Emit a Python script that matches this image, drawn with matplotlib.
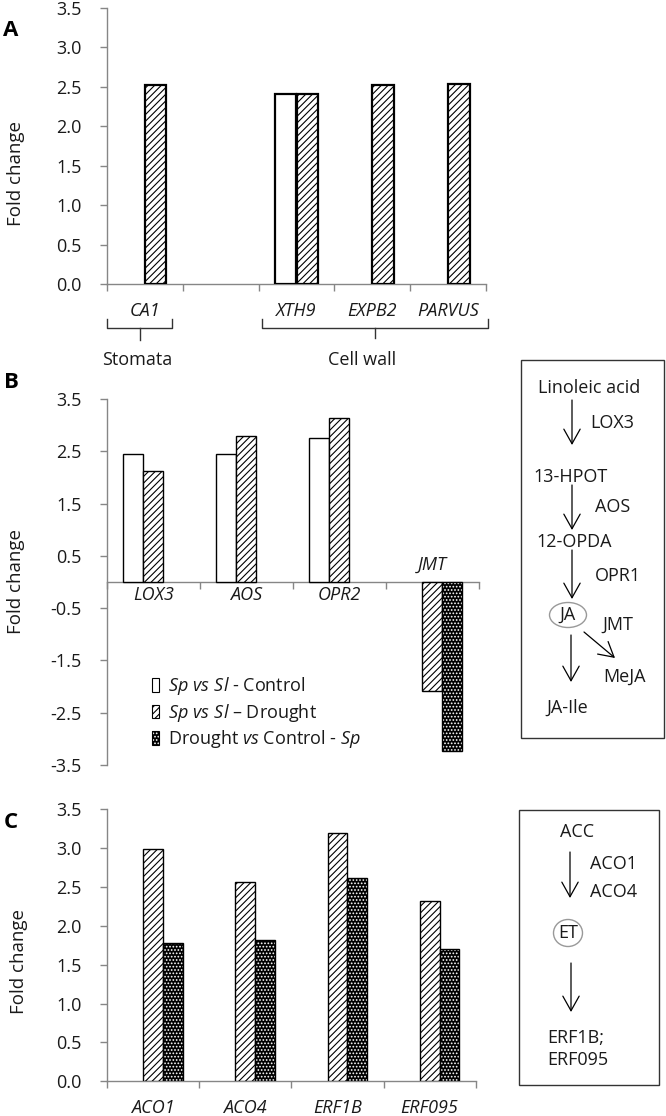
import numpy as np
import matplotlib
matplotlib.use("Agg")
import matplotlib.pyplot as plt
from matplotlib.patches import Patch, Rectangle, Ellipse

plt.rcParams['font.family'] = ['Open Sans', 'DejaVu Sans']
plt.rcParams['mathtext.fontset'] = 'custom'
plt.rcParams['mathtext.rm'] = 'Open Sans'
plt.rcParams['mathtext.it'] = 'Open Sans:italic'
plt.rcParams['hatch.linewidth'] = 0.8

# ---- data ----
genes_a = ['CA1', '', 'XTH9', 'EXPB2', 'PARVUS']
ctrl_a = [np.nan, np.nan, 2.41, np.nan, np.nan]
drought_a = [2.52, np.nan, 2.41, 2.52, 2.54]

genes_b = ['LOX3', 'AOS', 'OPR2', 'JMT']
ctrl_b = [2.45, 2.45, 2.75, np.nan]
drought_b = [2.12, 2.80, 3.13, -2.08]
dvc_b = [np.nan, np.nan, np.nan, -3.23]

genes_c = ['ACO1', 'ACO4', 'ERF1B', 'ERF095']
ctrl_c = [np.nan, np.nan, np.nan, np.nan]
drought_c = [2.99, 2.56, 3.20, 2.32]
dvc_c = [1.78, 1.82, 2.61, 1.70]

yticks_a = [0.0, 0.5, 1.0, 1.5, 2.0, 2.5, 3.0, 3.5]
yticks_b = [3.5, 2.5, 1.5, 0.5, -0.5, -1.5, -2.5, -3.5]

legend_labels = [r'$Sp\ vs\ Sl$ - Control',
                 r'$Sp\ vs\ Sl$ – Drought',
                 r'Drought $vs$ Control - $Sp$']

W, H = 666, 1116
FS = 13
GRAY = '#868686'
TXT = '#1a1a1a'
fig = plt.figure(figsize=(W/100, H/100), dpi=100)


def px_axes(x0, y0, x1, y1):
    return fig.add_axes([x0/W, 1 - y1/H, (x1-x0)/W, (y1-y0)/H])


def draw_bars(ax, series, styles, width, lw):
    n = len(series)
    offs = (np.arange(n) - (n-1)/2) * width
    for vals, off, st in zip(series, offs, styles):
        v = np.array(vals, float)
        m = np.isfinite(v)
        if not m.any():
            continue
        x = np.arange(len(v))[m] + off
        if st == 'open':
            ax.bar(x, v[m], width, color='white', edgecolor='black', lw=lw, zorder=3)
        elif st == 'hatch':
            ax.bar(x, v[m], width, color='white', edgecolor='black', hatch='/////', lw=lw, zorder=3)
        else:
            ax.bar(x, v[m], width, color='black', edgecolor='white', hatch='.....', lw=0, zorder=3)
            ax.bar(x, v[m], width, fill=False, edgecolor='black', lw=lw, zorder=4)


def style_axes(ax, n, yticks):
    for s in ['top', 'right']:
        ax.spines[s].set_visible(False)
    for s in ['left', 'bottom']:
        ax.spines[s].set_color(GRAY)
        ax.spines[s].set_linewidth(1)
    ax.spines['bottom'].set_position(('data', 0))
    ax.set_xlim(-0.5, n - 0.5)
    ax.set_xticks(np.arange(n + 1) - 0.5)
    ax.set_xticklabels([])
    ax.set_yticks(yticks)
    ax.set_yticklabels(['%.1f' % t for t in yticks], fontsize=FS, color=TXT)
    ax.tick_params(axis='x', direction='out', length=5, color=GRAY, width=1)
    ax.tick_params(axis='y', direction='out', length=5, color=GRAY, width=1, pad=13)
    ax.set_facecolor('none')


def gene_labels(ax, genes, vals, below, above=17):
    for i, g in enumerate(genes):
        neg = np.nanmin(np.array([v[i] for v in vals], float)) < 0 if g else False
        dy = above if neg else -below
        ax.annotate(g, (i, 0), xytext=(0, dy), textcoords='offset pixels',
                    ha='center', va='center', fontsize=FS, style='italic', color=TXT)


# ---- panel A ----
axA = px_axes(107, 8, 486, 284)
draw_bars(axA, [ctrl_a, drought_a], ['open', 'hatch'], 0.283, 1.6)
style_axes(axA, len(genes_a), yticks_a)
axA.set_ylim(0, 3.5)
gene_labels(axA, genes_a, [ctrl_a, drought_a], 27)
axA.set_ylabel('Fold change', fontsize=13.5, color=TXT)
axA.yaxis.set_label_coords(-0.216, 0.40)

# ---- panel B ----
axB = px_axes(107, 399, 478.6, 765)
draw_bars(axB, [ctrl_b, drought_b, dvc_b], ['open', 'hatch', 'dots'], 0.215, 1)
style_axes(axB, len(genes_b), yticks_b)
axB.set_ylim(-3.5, 3.5)
gene_labels(axB, genes_b, [ctrl_b, drought_b, dvc_b], 13)
axB.set_ylabel('Fold change', fontsize=13.5, color=TXT)
axB.yaxis.set_label_coords(-0.22, 0.5)

handles = [Patch(facecolor='white', edgecolor='black', lw=0.8),
           Patch(facecolor='white', edgecolor='black', hatch='/////', lw=0.8),
           (Patch(facecolor='black', edgecolor='white', hatch='.....', lw=0),
            Patch(fill=False, edgecolor='black', lw=0.8))]
axB.legend(handles, legend_labels, loc='upper left', frameon=False,
           bbox_to_anchor=(152/W, 1 - 675/H), bbox_transform=fig.transFigure,
           fontsize=FS, handlelength=0.38, handleheight=0.8, handletextpad=0.5,
           labelspacing=0.26, borderpad=0, borderaxespad=0, labelcolor=TXT)

# ---- panel C ----
axC = px_axes(107, 809.3, 475.7, 1081.3)
draw_bars(axC, [ctrl_c, drought_c, dvc_c], ['open', 'hatch', 'dots'], 0.215, 1)
style_axes(axC, len(genes_c), yticks_a)
axC.set_ylim(0, 3.5)
gene_labels(axC, genes_c, [drought_c, dvc_c], 27)
axC.set_ylabel('Fold change', fontsize=13.5, color=TXT)
axC.yaxis.set_label_coords(-0.215, 0.44)

# ---- overlay: letters, brackets, pathway boxes (pixel coords) ----
ov = fig.add_axes([0, 0, 1, 1])
ov.set_xlim(0, W)
ov.set_ylim(H, 0)
ov.axis('off')

for lab, y in [('A', 30), ('B', 383), ('C', 823)]:
    ov.text(11, y, lab, fontsize=16, fontweight='bold', ha='center', va='center')

# brackets under panel A
for x0, x1, xm, ybot, name, xt in [(107, 172, 139.5, 340, 'Stomata', 137),
                                    (262, 488, 375, 338, 'Cell wall', 362)]:
    ov.plot([x0, x0, x1, x1], [319, 328, 328, 319], color='#333333', lw=1)
    ov.plot([xm, xm], [328, ybot], color='#333333', lw=1)
    ov.text(xt, 360, name, fontsize=FS, ha='center', va='center', color=TXT)


def arrow(x0, y0, x1, y1):
    ov.annotate('', xy=(x1, y1), xytext=(x0, y0),
                arrowprops=dict(arrowstyle='->,head_length=0.5,head_width=0.28',
                                lw=0.9, color='black', shrinkA=0, shrinkB=0,
                                mutation_scale=21))


def t(x, y, s, ha='left'):
    ov.text(x, y, s, fontsize=FS, ha=ha, va='center', color=TXT)


# JA pathway box
ov.add_patch(Rectangle((521, 360), 143, 378, fill=False, edgecolor='#333333', lw=1))
t(589, 388, 'Linoleic acid', 'center')
arrow(572, 400, 572, 445)
t(590, 423, 'LOX3')
t(533, 477, '13-HPOT')
arrow(572, 485, 572, 530)
t(595, 507, 'AOS')
t(536, 542, '12-OPDA')
arrow(572, 550, 572, 599)
t(595, 576, 'OPR1')
ov.add_patch(Ellipse((568, 615), 37, 25, fill=False, edgecolor='#999999', lw=1))
t(568, 615, 'JA', 'center')
t(602, 625, 'JMT')
arrow(584, 632, 615, 658)
arrow(571, 635, 571, 682)
t(603, 677, 'MeJA')
t(567, 708, 'JA-Ile', 'center')

# ET pathway box
ov.add_patch(Rectangle((519, 810), 139.5, 275, fill=False, edgecolor='#333333', lw=1))
t(577, 832, 'ACC', 'center')
arrow(570, 852, 570, 898)
t(590, 864, 'ACO1')
t(590, 892, 'ACO4')
ov.add_patch(Ellipse((568, 933), 29, 27, fill=False, edgecolor='#999999', lw=1))
t(568, 933, 'ET', 'center')
arrow(571, 963, 571, 1012)
t(547, 1038, 'ERF1B;')
t(547, 1060, 'ERF095')

fig.savefig('out.png', dpi=100, facecolor='white')
